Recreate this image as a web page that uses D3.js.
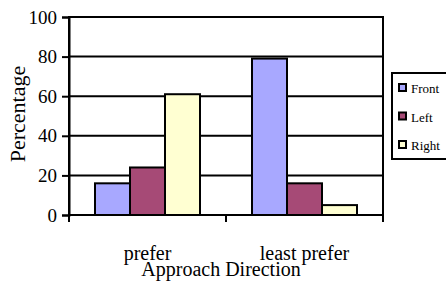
<!DOCTYPE html>
<html>
<head>
<meta charset="utf-8">
<script src="https://cdn.jsdelivr.net/npm/d3@7"></script>
<style>
  body { margin: 0; background: #fff; }
  text { font-family: "Liberation Serif", "Times New Roman", serif; fill: #000; }
</style>
</head>
<body>
<div class="chart"></div>
<script>
// data
var categories = ["prefer", "least prefer"];
var seriesNames = ["Front", "Left", "Right"];
var frontValues = [16, 79];
var leftValues = [24, 16];
var rightValues = [61, 5];
var yTicks = [0, 20, 40, 60, 80, 100];

var colors = ["#a8a8ff", "#a64a76", "#ffffd2"];

var svgWidth = 446, svgHeight = 281;
var margin = { top: 17, right: 63, bottom: 66, left: 69 };
var width = svgWidth - margin.left - margin.right;
var height = svgHeight - margin.top - margin.bottom;

var svg = d3.select(".chart").append("svg")
    .attr("width", svgWidth)
    .attr("height", svgHeight);

var chart = svg.append("g")
    .attr("transform", "translate(" + margin.left + "," + margin.top + ")");

var x0 = d3.scaleBand().domain(categories).range([0, width]).paddingInner(0).paddingOuter(0);
var x1 = d3.scaleBand().domain(seriesNames).range([26, x0.bandwidth() - 26]);
var y = d3.scaleLinear().domain([0, 100]).range([height, 0]);

var rows = categories.map(function(c, i) {
    return { cat: c, vals: [frontValues[i], leftValues[i], rightValues[i]] };
});

// gridlines
chart.append("g").selectAll("line")
    .data(yTicks.filter(function(d) { return d > 0 && d < 100; }))
    .enter().append("line")
    .attr("x1", 0).attr("x2", width)
    .attr("y1", function(d) { return y(d); })
    .attr("y2", function(d) { return y(d); })
    .attr("stroke", "#000").attr("stroke-width", 2);

// bars
var groups = chart.append("g").selectAll("g")
    .data(rows).enter().append("g")
    .attr("transform", function(d) { return "translate(" + x0(d.cat) + ",0)"; });

groups.selectAll("rect")
    .data(function(d) { return d.vals.map(function(v, i) { return { name: seriesNames[i], v: v, i: i }; }); })
    .enter().append("rect")
    .attr("x", function(d) { return x1(d.name); })
    .attr("width", x1.bandwidth())
    .attr("y", function(d) { return y(d.v); })
    .attr("height", function(d) { return height - y(d.v); })
    .attr("fill", function(d) { return colors[d.i]; })
    .attr("stroke", "#000").attr("stroke-width", 2);

// plot border
chart.append("rect")
    .attr("x", 0).attr("y", 0).attr("width", width).attr("height", height)
    .attr("fill", "none").attr("stroke", "#000").attr("stroke-width", 2);

// y axis
var leftAxis = d3.axisLeft(y).tickValues(yTicks).tickSize(7).tickPadding(5);
var gy = chart.append("g").call(leftAxis);
gy.select(".domain").attr("stroke-width", 2);
gy.selectAll(".tick line").attr("stroke-width", 2);
gy.selectAll("text").style("font-size", "19px").style("font-family", "Liberation Serif");

// x axis ticks at band edges
var edges = [0].concat(categories.map(function(c) { return x0(c) + x0.bandwidth(); }));
chart.append("g").selectAll("line")
    .data(edges).enter().append("line")
    .attr("x1", function(d) { return d; }).attr("x2", function(d) { return d; })
    .attr("y1", height).attr("y2", height + 7)
    .attr("stroke", "#000").attr("stroke-width", 2);

chart.append("g").selectAll("text")
    .data(categories).enter().append("text")
    .attr("x", function(d) { return x0(d) + x0.bandwidth() / 2; })
    .attr("y", height + 45)
    .attr("text-anchor", "middle")
    .style("font-size", "20px")
    .text(function(d) { return d; });

// axis titles
chart.append("text")
    .attr("x", width / 2 - 5)
    .attr("y", height + 61)
    .attr("text-anchor", "middle")
    .style("font-size", "20px")
    .text("Approach Direction");

svg.append("text")
    .attr("transform", "translate(25,114) rotate(-90)")
    .attr("text-anchor", "middle")
    .style("font-size", "22px")
    .text("Percentage");

// legend
var legend = svg.append("g").attr("transform", "translate(392,73)");
legend.append("rect")
    .attr("x", 0).attr("y", 0).attr("width", 60).attr("height", 86)
    .attr("fill", "#fff").attr("stroke", "#000").attr("stroke-width", 2);

var items = legend.selectAll("g.item")
    .data(seriesNames).enter().append("g")
    .attr("class", "item")
    .attr("transform", function(d, i) { return "translate(7," + (11 + i * 28.5) + ")"; });

items.append("rect")
    .attr("width", 7).attr("height", 7)
    .attr("fill", function(d, i) { return colors[i]; })
    .attr("stroke", "#000").attr("stroke-width", 2);

items.append("text")
    .attr("x", 12).attr("y", 9)
    .style("font-size", "13px")
    .text(function(d) { return d; });
</script>
</body>
</html>
